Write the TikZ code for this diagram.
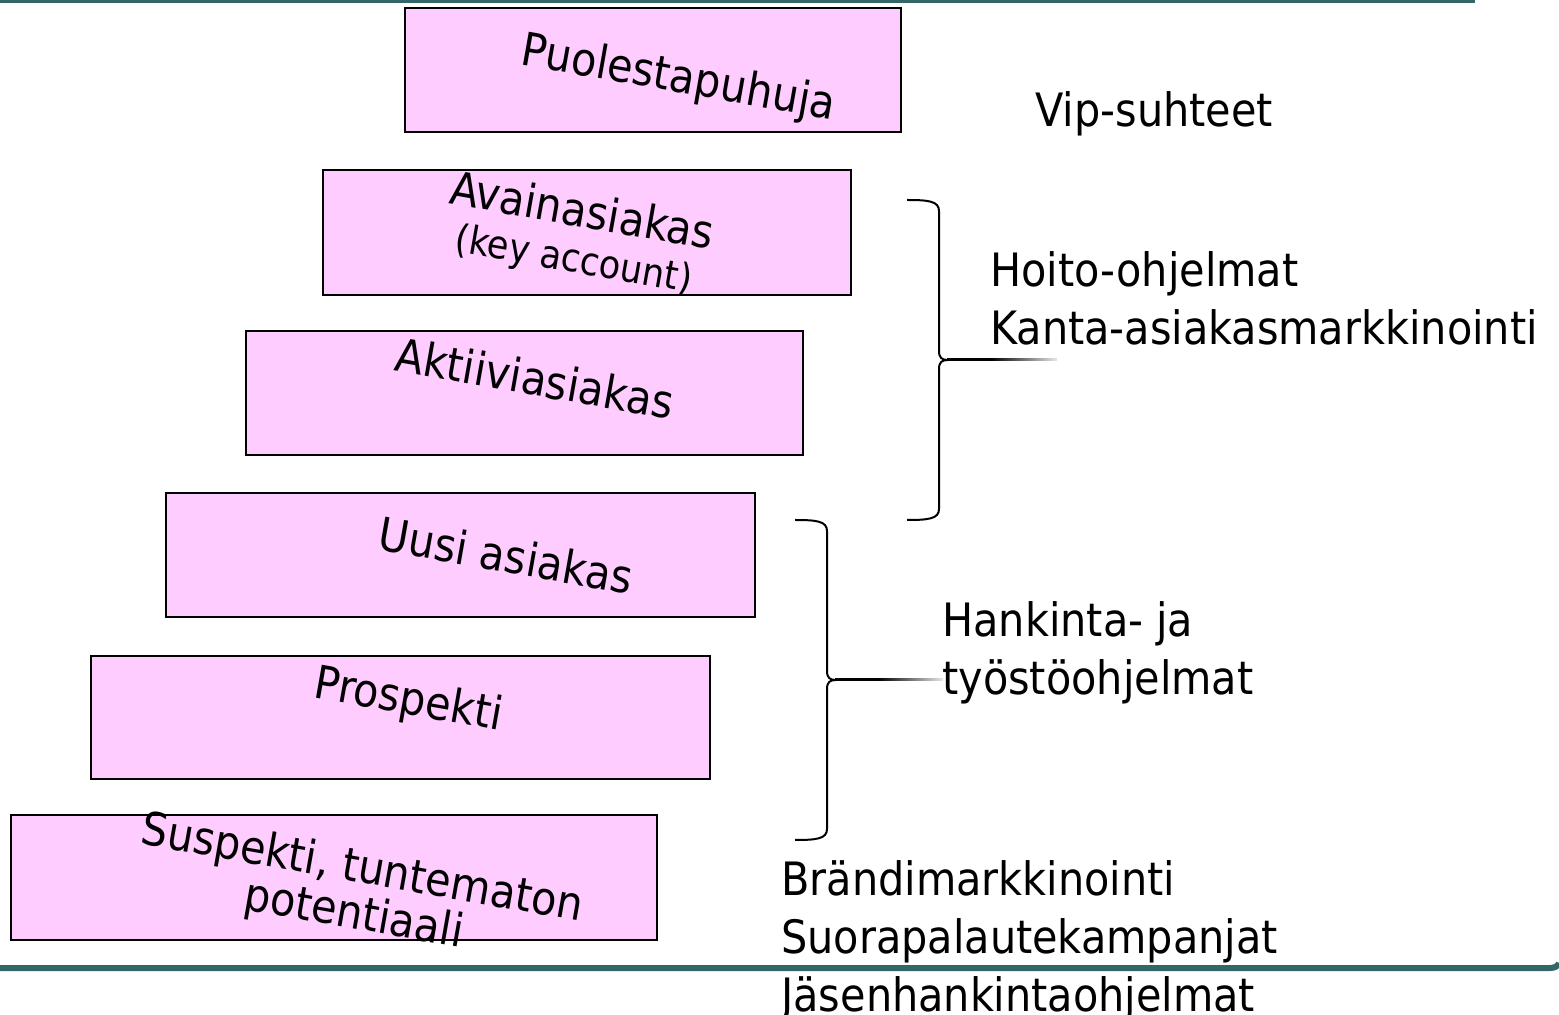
\documentclass[tikz,border=0pt]{standalone}
\usepackage{fontspec}
\setmainfont{DejaVu Sans Condensed}
\definecolor{stagefill}{RGB}{255,204,255}
\definecolor{rule}{RGB}{51,102,102}
\pgfdeclarehorizontalshading{fadeline}{100bp}{color(0bp)=(black); color(45bp)=(black); color(78bp)=(white); color(100bp)=(white)}
\begin{document}
\begin{tikzpicture}[x=0.5pt,y=-0.5pt,
  stagebox/.style={draw=black, line width=1pt, fill=stagefill, inner sep=0pt},
  stagetext/.style={inner sep=0pt, rotate=-10, font=\fontsize{23}{28}\selectfont},
  sidetext/.style={inner sep=0pt, anchor=base west, font=\fontsize{23}{28}\selectfont},
  brace/.style={draw=black, line width=1pt},
  fadebar/.style={shading=fadeline, draw=none}]
\useasboundingbox (0,0) rectangle (1559,1015);

% rules at the top and bottom of the page
\fill[rule] (0,0) rectangle (1475,3);
\draw[rule, line width=3pt] (0,968) -- (1550,968) .. controls (1555,968) and (1558,966) .. (1559,963);

% the stages of the customer ladder
\node[stagebox, minimum width=248pt, minimum height=62pt]   (b1) at (653,70)    {};
\node[stagebox, minimum width=264pt, minimum height=62.5pt] (b2) at (587,232.5) {};
\node[stagebox, minimum width=278.5pt, minimum height=62pt] (b3) at (524.5,393) {};
\node[stagebox, minimum width=294.5pt, minimum height=62pt] (b4) at (460.5,555) {};
\node[stagebox, minimum width=309.5pt, minimum height=61.5pt] (b5) at (400.5,717.5) {};
\node[stagebox, minimum width=323pt, minimum height=62.5pt] (b6) at (334,877.5) {};

% stage names, tilted
\node[stagetext, anchor=base] (t1) at (676,92)  {Puolestapuhuja};
\node[stagetext, anchor=center, align=center] (t2) at (578,236)
  {Avainasiakas\\[-5pt]{\fontsize{19.5}{22}\selectfont (key account)}};
\node[stagetext, anchor=base] (t3) at (532,395) {Aktiiviasiakas};
\node[stagetext, anchor=base] (t4) at (503,572) {Uusi asiakas};
\node[stagetext, anchor=base] (t5) at (406,714) {Prospekti};
\node[stagetext, anchor=center, align=center, font=\fontsize{23}{22}\selectfont] (t6) at (358,893)
  {Suspekti, tuntematon\\potentiaali};

% braces grouping the stages
\draw[brace] (907,200) .. controls (928,200) and (939,201) .. (939,211)
  -- (939,351) .. controls (939,358) and (942,360) .. (948,360)
  .. controls (942,360) and (939,362) .. (939,369)
  -- (939,509) .. controls (939,519) and (928,520) .. (907,520);
\path[fadebar] (947,359) rectangle (1057,361);

\draw[brace] (795,520) .. controls (816,520) and (827,521) .. (827,531)
  -- (827,671) .. controls (827,678) and (830,680) .. (836,680)
  .. controls (830,680) and (827,682) .. (827,689)
  -- (827,829) .. controls (827,839) and (816,840) .. (795,840);
\path[fadebar] (835,679) rectangle (943,681);

% marketing programmes for each group
\node[sidetext] (vip) at (1035,127) {Vip-suhteet};
\node[sidetext] (h1)  at (990,287)  {Hoito-ohjelmat};
\node[sidetext] (h2)  at (990,345)  {Kanta-asiakasmarkkinointi};
\node[sidetext] (k1)  at (942,637)  {Hankinta- ja};
\node[sidetext] (k2)  at (942,695)  {työstöohjelmat};
\node[sidetext] (m1)  at (781,895)  {Brändimarkkinointi};
\node[sidetext] (m2)  at (781,953)  {Suorapalautekampanjat};
\node[sidetext] (m3)  at (781,1011) {Jäsenhankintaohjelmat};
\end{tikzpicture}
\end{document}
